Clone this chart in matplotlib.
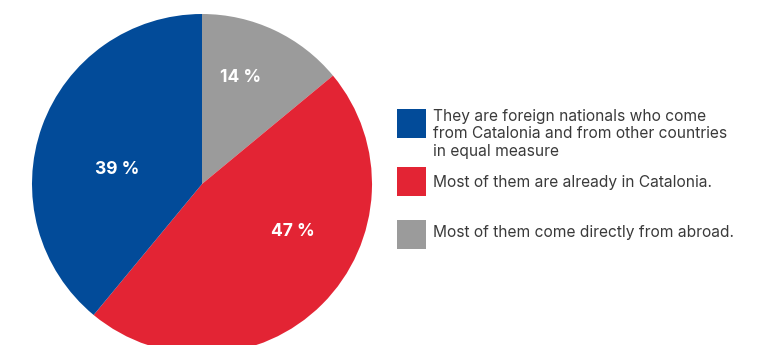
import matplotlib.pyplot as plt
from matplotlib.patches import Rectangle

# data
shares = [14, 47, 39]
slice_colors = ["#9b9b9b", "#e32434", "#024b99"]
pct_labels = ["14 %", "47 %", "39 %"]
legend_labels = [
    "They are foreign nationals who come\nfrom Catalonia and from other countries\nin equal measure",
    "Most of them are already in Catalonia.",
    "Most of them come directly from abroad.",
]
legend_colors = ["#024b99", "#e32434", "#9b9b9b"]

W, H = 763, 345
plt.rcParams["font.family"] = ["Inter", "DejaVu Sans"]

fig = plt.figure(figsize=(W / 100, H / 100), dpi=100)
ax = fig.add_axes([0, 0, 1, 1])

# pie in pixel coords (y up)
cx, cy, r = 202, H - 184, 170
ax.pie(shares, colors=slice_colors, startangle=90, counterclock=False,
       center=(cx, cy), radius=r, wedgeprops=dict(linewidth=0))
ax.set_xlim(0, W)
ax.set_ylim(0, H)
ax.set_aspect("equal")
ax.axis("off")

# percent labels (placed like the original)
label_pos = [(241, 77), (293, 231), (117, 170)]
for txt, (x, y) in zip(pct_labels, label_pos):
    ax.text(x, H - y, txt, color="white", fontsize=12.5, fontweight="bold",
            ha="center", va="center")

# legend drawn by hand
box_tops = [109, 167, 220]
text_mid = [134, 182, 233]
for lab, col, bt, tm in zip(legend_labels, legend_colors, box_tops, text_mid):
    ax.add_patch(Rectangle((397, H - bt - 29), 29, 29, color=col, lw=0))
    ax.text(433, H - tm, lab, color="#3a3a3a", fontsize=11.2, ha="left",
            va="center", linespacing=1.2)

fig.savefig("out.png", dpi=100)
